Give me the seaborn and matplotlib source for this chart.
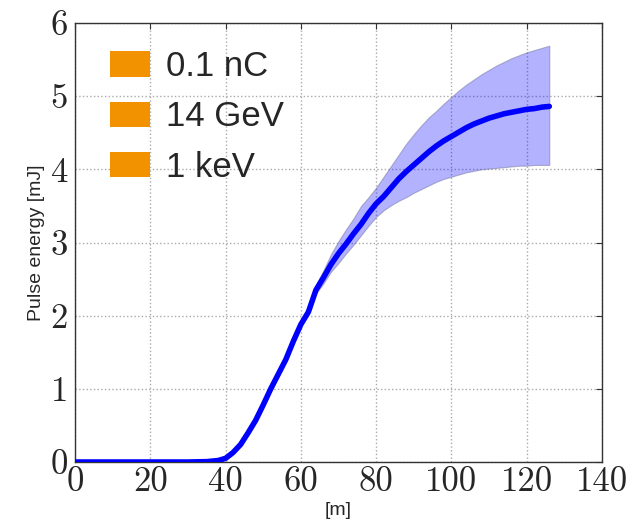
import matplotlib
matplotlib.use("Agg")
import matplotlib.pyplot as plt
from matplotlib.patches import Patch
import numpy as np
import pandas as pd
import seaborn as sns

# ---- data ----
position_m = [0, 10, 20, 30, 35, 38, 40, 42, 44, 46, 48, 50, 52, 54, 56, 58, 60,
              62, 64, 66, 68, 70, 72, 74, 76, 78, 80, 82, 84, 86, 88, 90, 92, 94,
              96, 98, 100, 102, 104, 106, 108, 110, 112, 114, 116, 118, 120, 122,
              124, 126]
energy_mean = [0, 0, 0, 0.0, 0.005, 0.02, 0.05, 0.13, 0.24, 0.40, 0.57, 0.78, 1.00,
               1.20, 1.40, 1.65, 1.88, 2.05, 2.35, 2.52, 2.70, 2.85, 2.98, 3.12, 3.25,
               3.40, 3.53, 3.63, 3.75, 3.87, 3.97, 4.06, 4.15, 4.24, 4.32, 4.39, 4.45,
               4.51, 4.57, 4.62, 4.66, 4.70, 4.73, 4.76, 4.78, 4.80, 4.82, 4.83, 4.85,
               4.86]
energy_upper = [0, 0, 0, 0.0, 0.005, 0.02, 0.05, 0.13, 0.24, 0.40, 0.57, 0.78, 1.00,
                1.20, 1.40, 1.65, 1.88, 2.08, 2.42, 2.62, 2.84, 3.02, 3.18, 3.33, 3.50,
                3.62, 3.75, 3.90, 4.05, 4.20, 4.35, 4.48, 4.60, 4.71, 4.80, 4.90, 4.99,
                5.08, 5.16, 5.23, 5.30, 5.36, 5.42, 5.47, 5.52, 5.56, 5.60, 5.63, 5.66,
                5.69]
energy_lower = [0, 0, 0, 0.0, 0.005, 0.02, 0.05, 0.13, 0.24, 0.40, 0.57, 0.78, 1.00,
                1.20, 1.40, 1.65, 1.88, 2.02, 2.30, 2.44, 2.60, 2.72, 2.85, 2.97, 3.10,
                3.23, 3.35, 3.44, 3.51, 3.57, 3.62, 3.68, 3.73, 3.78, 3.83, 3.87, 3.90,
                3.93, 3.96, 3.98, 4.00, 4.01, 4.02, 4.03, 4.04, 4.05, 4.05, 4.06, 4.06,
                4.06]
legend_labels = ["0.1 nC", "14 GeV", "1 keV"]
x_ticks = [0, 20, 40, 60, 80, 100, 120, 140]
y_ticks = [0, 1, 2, 3, 4, 5, 6]

df = pd.DataFrame({"z": position_m, "E": energy_mean,
                   "lo": energy_lower, "hi": energy_upper})

sns.set_style("white")
plt.rcParams["font.family"] = ["Liberation Sans", "DejaVu Sans"]

fig = plt.figure(figsize=(6.3, 5.23), dpi=100)
ax = fig.add_axes([75 / 630, 61 / 523, 527 / 630, 439 / 523])

ax.fill_between(df["z"], df["lo"], df["hi"], facecolor=(0.0, 0.0, 1.0, 0.3),
                edgecolor=(0.45, 0.45, 0.6, 0.5), lw=0.8, zorder=2)
sns.lineplot(data=df, x="z", y="E", ax=ax, color="#0000ff", lw=4,
             solid_capstyle="round", zorder=3)

ax.set_xlim(0, 140)
ax.set_ylim(0, 6)
ax.set_xticks(x_ticks)
ax.set_yticks(y_ticks)
ax.set_xticklabels([str(t) for t in x_ticks], fontfamily="cmr10", fontsize=25)
ax.set_yticklabels([str(t) for t in y_ticks], fontfamily="cmr10", fontsize=25)
ax.tick_params(axis="both", direction="in", length=4, width=0.8, color="#333333",
               top=True, right=True, pad=3)
ax.tick_params(axis="y", pad=5)
ax.grid(True, ls=":", color="#aaaaaa", lw=1)
for s in ax.spines.values():
    s.set_color("#333333")
    s.set_linewidth(1.0)

ax.set_xlabel("[m]", fontsize=14, labelpad=3)
ax.set_ylabel("Pulse energy [mJ]", fontsize=14, labelpad=4)

handles = [Patch(facecolor="#f39200", edgecolor="none") for _ in legend_labels]
leg = ax.legend(handles, legend_labels, loc="upper left",
                bbox_to_anchor=(110 / 630, 1 - 50 / 523),
                bbox_transform=fig.transFigure, frameon=False, fontsize=25,
                handlelength=1.15, handleheight=0.75, handletextpad=0.45,
                labelspacing=0.5, borderpad=0, borderaxespad=0)

fig.savefig("out.png", dpi=100)
